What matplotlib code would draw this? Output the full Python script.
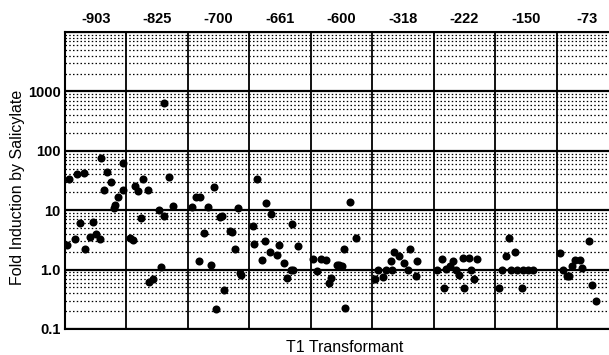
import matplotlib
matplotlib.use("Agg")
import matplotlib.pyplot as plt
from matplotlib.ticker import LogLocator, NullFormatter

plt.rcParams["font.family"] = ["Liberation Sans", "DejaVu Sans"]

promoters = ["-903", "-825", "-700", "-661", "-600", "-318", "-222", "-150", "-73"]

# transformant positions along x (column i spans i..i+1) and fold induction values
x_903 = [0.04, 0.07, 0.16, 0.19, 0.24, 0.31, 0.33, 0.40, 0.45, 0.51, 0.57, 0.58, 0.64, 0.69, 0.75, 0.79, 0.81, 0.86, 0.94, 0.94]
y_903 = [2.6, 34, 3.3, 40, 6.0, 43, 2.2, 3.6, 6.3, 3.9, 3.3, 75, 22, 44, 30, 11, 12, 17, 62, 22]

x_825 = [1.06, 1.10, 1.14, 1.19, 1.23, 1.27, 1.35, 1.37, 1.43, 1.53, 1.56, 1.61, 1.61, 1.69, 1.76]
y_825 = [3.4, 3.1, 26, 21, 7.3, 33, 22, 0.61, 0.70, 10, 1.1, 7.9, 630, 36, 11.7]

x_700 = [2.06, 2.13, 2.18, 2.19, 2.26, 2.33, 2.37, 2.42, 2.45, 2.52, 2.56, 2.58, 2.68, 2.71, 2.77, 2.82, 2.84, 2.86]
y_700 = [11.2, 17, 1.38, 17, 4.2, 11.4, 1.2, 25, 0.22, 7.7, 8.1, 0.46, 4.5, 4.3, 2.2, 11, 0.88, 0.82]

x_661 = [3.06, 3.07, 3.13, 3.20, 3.25, 3.27, 3.34, 3.36, 3.45, 3.49, 3.57, 3.62, 3.67, 3.70, 3.71, 3.79]
y_661 = [5.4, 2.67, 34, 1.47, 3.0, 13.3, 1.96, 8.7, 1.77, 2.6, 1.3, 0.71, 1.0, 5.9, 0.97, 2.54]

x_600 = [4.04, 4.10, 4.17, 4.25, 4.29, 4.33, 4.42, 4.46, 4.50, 4.54, 4.56, 4.64, 4.73]
y_600 = [1.5, 0.94, 1.5, 1.43, 0.6, 0.71, 1.21, 1.2, 1.14, 2.2, 0.226, 13.6, 3.4]

x_318 = [5.05, 5.09, 5.17, 5.23, 5.31, 5.33, 5.36, 5.44, 5.52, 5.59, 5.62, 5.72, 5.73]
y_318 = [0.70, 1.0, 0.75, 0.97, 1.4, 1.0, 1.96, 1.72, 1.3, 1.0, 2.2, 0.77, 1.4]

x_222 = [6.05, 6.13, 6.17, 6.20, 6.26, 6.32, 6.37, 6.42, 6.48, 6.50, 6.57, 6.60, 6.65, 6.70]
y_222 = [1.0, 1.53, 0.49, 1.03, 1.14, 1.42, 0.97, 0.82, 1.57, 0.49, 1.57, 1.0, 0.70, 1.5]

x_150 = [7.06, 7.11, 7.18, 7.22, 7.26, 7.33, 7.36, 7.44, 7.45, 7.53, 7.62]
y_150 = [0.49, 1.0, 1.72, 3.4, 0.97, 1.96, 0.97, 0.49, 0.97, 0.97, 0.97]

x_73 = [8.05, 8.10, 8.17, 8.21, 8.25, 8.30, 8.38, 8.42, 8.52, 8.58, 8.64]
y_73 = [1.91, 1.0, 0.77, 0.77, 1.14, 1.43, 1.47, 1.07, 3.0, 0.56, 0.30]

series = [(x_903, y_903), (x_825, y_825), (x_700, y_700), (x_661, y_661), (x_600, y_600),
          (x_318, y_318), (x_222, y_222), (x_150, y_150), (x_73, y_73)]

ytick_vals = [0.1, 1, 10, 100, 1000, 10000]
ytick_labels = ["0.1", "1.0", "10", "100", "1000", ""]

fig = plt.figure(figsize=(6.09, 3.55), dpi=100)
ax = fig.add_axes([65 / 609, 26 / 355, 553 / 609, 297 / 355])
ax.set_yscale("log")
ax.set_ylim(0.1, 10000)
ax.set_xlim(0, len(promoters))

ax.set_yticks(ytick_vals)
ax.set_yticklabels(ytick_labels)
ax.yaxis.set_minor_locator(LogLocator(base=10, subs=range(2, 10)))
ax.yaxis.set_minor_formatter(NullFormatter())

ax.set_xticks([i + 0.5 for i in range(len(promoters))])
ax.set_xticklabels(promoters)
ax.set_xticks(range(1, len(promoters)), minor=True)
ax.xaxis.tick_top()

ax.tick_params(axis="both", which="both", length=0)
ax.tick_params(axis="y", pad=3, labelsize=10.5)
ax.tick_params(axis="x", pad=4, labelsize=10.5)
for lab in ax.get_xticklabels() + ax.get_yticklabels():
    lab.set_fontweight("bold")

ax.grid(which="major", axis="y", color="black", lw=1.6)
ax.grid(which="minor", axis="y", color="black", lw=0.9, ls=(0, (1.2, 1.8)))
ax.grid(which="minor", axis="x", color="black", lw=1.3)
ax.set_axisbelow(True)

for sp in ax.spines.values():
    sp.set_linewidth(1.5)

for xs, ys in series:
    ax.plot(xs, ys, "o", color="black", ms=5.8, mew=0)

fig.text(18 / 609, 1 - 187 / 355, "Fold Induction by Salicylate", rotation=90,
         ha="center", va="center", fontsize=11.5)
fig.text(345 / 609, 1 - 347 / 355, "T1 Transformant", ha="center", va="center", fontsize=11.5)

fig.savefig("out.png", dpi=100)
